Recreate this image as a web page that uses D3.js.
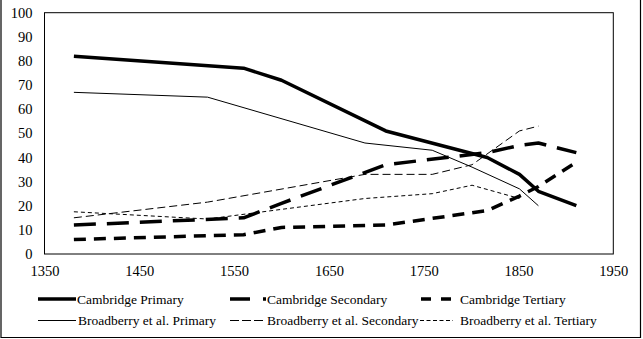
<!DOCTYPE html>
<html>
<head>
<meta charset="utf-8">
<script src="https://cdn.jsdelivr.net/npm/d3@7"></script>
<style>
  html, body { margin: 0; padding: 0; background: #fff; }
  svg { display: block; }
  text { font-family: "Liberation Serif", "DejaVu Serif", serif; fill: #000; }
</style>
</head>
<body>
<svg id="chart" width="643" height="339"></svg>
<script>
// ---- Data ----
const camYears = [1381, 1560, 1600, 1710, 1817, 1851, 1871, 1911];
const camPrimary = [82, 77, 72, 51, 40, 33, 26, 20];
const camSecondary = [12, 15, 21, 37, 42, 45, 46, 42];
const camTertiary = [6, 8, 11, 12, 18, 24, 28, 38];

const bbYears = [1381, 1522, 1688, 1759, 1801, 1851, 1871];
const bbPrimary = [67, 65, 46, 43, 36, 27, 20];
const bbSecondary = [15, 21.5, 33, 33, 37, 51, 53];
const bbTertiary = [17.5, 14.5, 23, 25, 28.5, 23, null];

const xTicks = [1350, 1450, 1550, 1650, 1750, 1850, 1950];
const yTicks = [0, 10, 20, 30, 40, 50, 60, 70, 80, 90, 100];

const seriesNames = ["Cambridge Primary", "Cambridge Secondary", "Cambridge Tertiary",
  "Broadberry et al. Primary", "Broadberry et al. Secondary", "Broadberry et al. Tertiary"];

// ---- Styles ----
const styles = [
  { w: 3.5, dash: null, legendDash: null },
  { w: 3.5, dash: "22,11", legendDash: "20,13,3,20" },
  { w: 3.5, dash: "12,8", legendDash: "10,10" },
  { w: 1, dash: null, legendDash: null },
  { w: 1, dash: "8,4", legendDash: "9,3" },
  { w: 1, dash: "4,3", legendDash: "4,2.5" }
];

const series = [
  { years: camYears, values: camPrimary },
  { years: camYears, values: camSecondary },
  { years: camYears, values: camTertiary },
  { years: bbYears, values: bbPrimary },
  { years: bbYears, values: bbSecondary },
  { years: bbYears, values: bbTertiary }
];

const svg = d3.select("#chart");
const plot = { left: 44.5, right: 613.3, top: 12.7, bottom: 254 };

const x = d3.scaleLinear().domain([1350, 1950]).range([plot.left, plot.right]);
const y = d3.scaleLinear().domain([0, 100]).range([plot.bottom, plot.top]);

const FONT = "'Liberation Serif', 'DejaVu Serif', serif";

// Outer chart border
svg.append("path")
  .attr("d", "M1,0 V337.5 H640.5 V0")
  .attr("fill", "none").attr("stroke", "#000").attr("stroke-width", 1.2);

// Plot area border
svg.append("rect")
  .attr("x", plot.left).attr("y", plot.top)
  .attr("width", plot.right - plot.left).attr("height", plot.bottom - plot.top)
  .attr("fill", "none").attr("stroke", "#000").attr("stroke-width", 1);

// Axes (labels only)
const yAxis = d3.axisLeft(y).tickValues(yTicks).tickSize(0).tickPadding(12).tickFormat(d3.format("d"));
const gy = svg.append("g").attr("transform", `translate(${plot.left},0)`).call(yAxis)
  .attr("font-family", FONT).attr("font-size", 14.5);
gy.select(".domain").remove();
gy.selectAll("text").attr("fill", "#000");

const xAxis = d3.axisBottom(x).tickValues(xTicks).tickSize(0).tickPadding(12).tickFormat(d3.format("d"));
const gx = svg.append("g").attr("transform", `translate(0,${plot.bottom})`).call(xAxis)
  .attr("font-family", FONT).attr("font-size", 14.5);
gx.select(".domain").remove();
gx.selectAll("text").attr("fill", "#000");

// Lines
const line = d3.line()
  .defined(d => d.v !== null)
  .x(d => x(d.yr))
  .y(d => y(d.v));

series.forEach((s, i) => {
  const pts = s.years.map((yr, j) => ({ yr, v: s.values[j] }));
  svg.append("path")
    .datum(pts)
    .attr("d", line)
    .attr("fill", "none")
    .attr("stroke", "#000")
    .attr("stroke-width", styles[i].w)
    .attr("stroke-linejoin", "round")
    .attr("stroke-dasharray", styles[i].dash);
});

// Legend
const legendRows = [299, 320.5];
const legendCols = [
  { x1: 38, x2: 76, tx: 77 },
  { x1: 230, x2: 266, tx: 267 },
  { x1: 421, x2: 454, tx: 460 }
];
const legendItems = seriesNames.map((name, i) => ({
  name, i, row: Math.floor(i / 3), col: i % 3
}));
const lg = svg.append("g");
legendItems.forEach(d => {
  const c = legendCols[d.col];
  const yy = legendRows[d.row];
  let x1 = c.x1, x2 = c.x2;
  if (d.row === 1 && d.col === 1) { x1 = 230; x2 = 265; }
  if (d.row === 1 && d.col === 2) { x1 = 420; x2 = 453; }
  lg.append("line")
    .attr("x1", x1).attr("x2", x2).attr("y1", yy).attr("y2", yy)
    .attr("stroke", "#000")
    .attr("stroke-width", styles[d.i].w)
    .attr("stroke-dasharray", styles[d.i].legendDash);
  lg.append("text")
    .attr("x", d.row === 1 && d.col === 0 ? c.tx + 1 : c.tx)
    .attr("y", yy)
    .attr("dy", "0.35em")
    .attr("font-family", FONT)
    .attr("font-size", 13.5)
    .text(d.name);
});
</script>
</body>
</html>
